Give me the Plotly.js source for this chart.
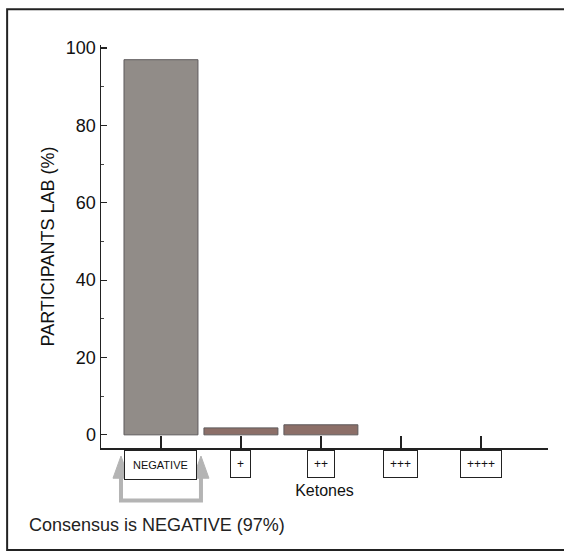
<!DOCTYPE html>
<html>
<head>
<meta charset="utf-8">
<script src="https://cdn.plot.ly/plotly-3.0.1.min.js"></script>
<style>html,body{margin:0;padding:0;background:#fff;}#chart{width:564px;height:555px;}</style>
</head>
<body>
<div id="chart"></div>
<script>
// Data
const categories = ["NEGATIVE", "+", "++", "+++", "++++"];
const percentages = [97, 1.8, 2.6, 0, 0];
const barColors = ["#918c88", "#8c6f68", "#8c6f68", "#8c6f68", "#8c6f68"];
const yTickValues = [0, 20, 40, 60, 80, 100];
const yTickLabels = ["0", "20", "40", "60", "80", "100"];
const consensusText = "Consensus is NEGATIVE (97%)";

const FONT = "Liberation Sans Narrow, Arial Narrow, Liberation Sans, Arial, sans-serif";
const FONT2 = "Liberation Sans, Arial, sans-serif";

const trace = {
  type: "bar",
  x: categories,
  y: percentages,
  marker: {
    color: barColors,
    line: { color: "#5e5a5c", width: percentages.map(v => (v > 0 ? 1 : 0)) }
  },
  hoverinfo: "x+y"
};

const tickAnnotations = categories.map((c) => ({
  x: c, xref: "x", y: -0.006, yref: "paper",
  yanchor: "top", xanchor: "center",
  text: c, showarrow: false,
  font: { family: FONT, size: c === "NEGATIVE" ? 11 : 12, color: "#111" },
  bordercolor: "#222", borderwidth: 1, borderpad: c === "NEGATIVE" ? 8 : 6,
  bgcolor: "#fff"
}));

const layout = {
  width: 564, height: 555,
  margin: { l: 101, r: 16, t: 45, b: 107 },
  paper_bgcolor: "#fff", plot_bgcolor: "rgba(0,0,0,0)",
  showlegend: false,
  bargap: 0.075,
  font: { family: FONT, color: "#111" },
  xaxis: {
    type: "category",
    range: [-0.75, 4.84],
    showline: true, linecolor: "#222", linewidth: 1.5,
    ticks: "inside", ticklen: 12, tickcolor: "#222", tickwidth: 1.5,
    showticklabels: false, showgrid: false, zeroline: false,
    title: { text: "Ketones", font: { family: FONT, size: 16, color: "#111" }, standoff: 36 }
  },
  yaxis: {
    range: [-3.4, 100.8],
    showline: true, linecolor: "#222", linewidth: 1.5,
    tickvals: yTickValues, ticktext: yTickLabels,
    ticks: "inside", ticklen: 6, tickcolor: "#222", tickwidth: 1.2,
    minor: { dtick: 10, ticks: "inside", ticklen: 3, tickcolor: "#444" },
    tickfont: { family: FONT, size: 18, color: "#111" },
    showgrid: false, zeroline: false,
    title: { text: "PARTICIPANTS LAB (%)", font: { family: FONT2, size: 18, color: "#111" }, standoff: 6 }
  },
  annotations: tickAnnotations.concat([
    {
      x: -0.165, xref: "paper", y: -0.19, yref: "paper",
      xanchor: "left", yanchor: "middle", showarrow: false,
      text: consensusText,
      font: { family: FONT2, size: 18, color: "#222" }
    }
  ]),
  shapes: [
    // outer frame
    { type: "rect", xref: "paper", yref: "paper", x0: -0.21, x1: 1.06, y0: -0.253, y1: 1.089,
      line: { color: "#222", width: 2 }, fillcolor: "rgba(0,0,0,0)", layer: "below" },
    // consensus bracket arrow (gray U-shape)
    { type: "path", xref: "x", yref: "paper",
      path: "M -0.5,-0.07 L -0.5,-0.13 L 0.5,-0.13 L 0.5,-0.07",
      line: { color: "#b4b4b4", width: 4 }, layer: "above" },
    { type: "path", xref: "x", yref: "paper",
      path: "M -0.6,-0.075 L -0.5,-0.02 L -0.4,-0.075 Z",
      fillcolor: "#b4b4b4", line: { color: "#b4b4b4", width: 1 } },
    { type: "path", xref: "x", yref: "paper",
      path: "M 0.4,-0.075 L 0.5,-0.02 L 0.6,-0.075 Z",
      fillcolor: "#b4b4b4", line: { color: "#b4b4b4", width: 1 } }
  ]
};

Plotly.newPlot("chart", [trace], layout, { displayModeBar: false, staticPlot: true });
</script>
</body>
</html>
